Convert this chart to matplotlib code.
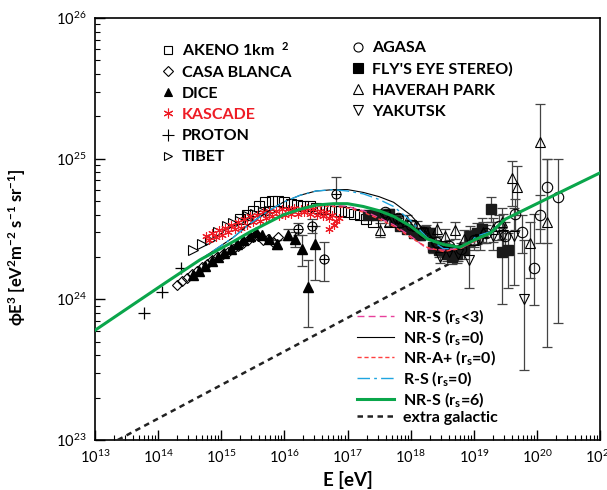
import matplotlib
matplotlib.use('Agg')
import matplotlib.pyplot as plt
import numpy as np
from matplotlib.lines import Line2D

plt.rcParams['font.family'] = ['Lato', 'DejaVu Sans']
plt.rcParams['mathtext.fontset'] = 'custom'
plt.rcParams['mathtext.rm'] = 'Lato:bold'
plt.rcParams['mathtext.it'] = 'Lato:bold'
plt.rcParams['mathtext.bf'] = 'Lato:bold'
plt.rcParams['mathtext.default'] = 'bf'

# ---------------- data (log10 E [eV], log10 phi E^3) ----------------
proton_E = [13.77, 14.06, 14.37]
proton_y = [23.905, 24.055, 24.22]

tibet_E = [14.55, 14.69, 14.82, 14.95, 15.09, 15.19, 15.30, 15.43, 15.54, 15.66, 15.78]
tibet_y = [24.35, 24.39, 24.42, 24.48, 24.52, 24.54, 24.56, 24.59, 24.61, 24.62, 24.63]

kascade1_E = [14.76, 14.86, 14.96, 15.06, 15.16, 15.26, 15.36, 15.46, 15.56, 15.66, 15.76,
              15.86, 15.96, 16.06, 16.16, 16.26, 16.36, 16.46, 16.56, 16.66, 16.76, 16.86]
kascade1_y = [24.45, 24.47, 24.49, 24.51, 24.53, 24.55, 24.57, 24.59, 24.60, 24.62, 24.63,
              24.63, 24.64, 24.64, 24.65, 24.64, 24.65, 24.64, 24.63, 24.62, 24.60, 24.58]
kascade2_E = [14.81, 14.91, 15.01, 15.11, 15.21, 15.31, 15.41, 15.51, 15.61, 15.71, 15.81,
              15.91, 16.01, 16.11, 16.21, 16.31, 16.41, 16.51, 16.61, 16.71, 16.81, 16.70, 16.78]
kascade2_y = [24.42, 24.44, 24.46, 24.48, 24.50, 24.51, 24.53, 24.55, 24.56, 24.58, 24.59,
              24.59, 24.60, 24.61, 24.61, 24.62, 24.61, 24.60, 24.59, 24.58, 24.56, 24.50, 24.53]

akeno_E = [15.3, 15.4, 15.5, 15.6, 15.7, 15.8, 15.9, 16.0, 16.1, 16.2, 16.3, 16.4, 16.5,
           16.6, 16.7, 16.8, 16.9, 17.0, 17.1, 17.2, 17.3, 17.4]
akeno_y = [24.57, 24.60, 24.63, 24.66, 24.69, 24.70, 24.70, 24.69, 24.68, 24.67, 24.66, 24.66,
           24.65, 24.64, 24.64, 24.63, 24.63, 24.62, 24.61, 24.60, 24.57, 24.55]

casa_E = [14.30, 14.38, 14.46, 14.54, 14.62, 14.70, 14.78, 14.86, 14.94, 15.02, 15.10, 15.18,
          15.26, 15.34, 15.42, 15.50, 15.58, 15.66, 15.74, 15.82, 15.90]
casa_y = [24.10, 24.13, 24.15, 24.18, 24.20, 24.23, 24.25, 24.28, 24.30, 24.32, 24.34, 24.36,
          24.38, 24.40, 24.42, 24.44, 24.45, 24.42, 24.43, 24.41, 24.44]

dice_E = [14.55, 14.65, 14.75, 14.85, 14.95, 15.05, 15.15, 15.25, 15.35, 15.45, 15.55, 15.65,
          15.75, 15.88, 16.06, 16.17, 16.28, 16.38, 16.48]
dice_y = [24.17, 24.20, 24.24, 24.27, 24.30, 24.33, 24.36, 24.39, 24.42, 24.45, 24.48, 24.46,
          24.43, 24.39, 24.46, 24.43, 24.36, 24.09, 24.39]
dice_up = [0, 0, 0, 0, 0, 0, 0, 0, 0, 0, 0, 0, 0, 0.03, 0.04, 0.05, 0.10, 0.19, 0.13]
dice_dn = [0, 0, 0, 0, 0, 0, 0, 0, 0, 0, 0, 0, 0, 0.03, 0.04, 0.06, 0.12, 0.29, 0.25]

cross_E = [16.22, 16.43, 16.62, 16.82]
cross_y = [24.50, 24.52, 24.29, 24.75]
cross_up = [0.04, 0.05, 0.12, 0.12]
cross_dn = [0.04, 0.05, 0.16, 0.07]

agasa_E = [17.6, 17.8, 18.0, 18.2, 18.4, 18.6, 18.8, 19.0, 19.2, 19.4, 19.5, 19.66, 19.76,
           19.95, 20.05, 20.16, 20.34]
agasa_y = [24.62, 24.58, 24.53, 24.48, 24.41, 24.38, 24.36, 24.42, 24.47, 24.52, 24.45, 24.61,
           24.48, 24.22, 24.60, 24.80, 24.73]
agasa_up = [0.02, 0.02, 0.03, 0.03, 0.03, 0.04, 0.04, 0.05, 0.06, 0.08, 0.10, 0.10, 0.12,
            0.39, 0.14, 0.20, 0.27]
agasa_dn = [0.02, 0.02, 0.03, 0.03, 0.03, 0.04, 0.04, 0.05, 0.07, 0.10, 0.12, 0.12, 0.15,
            0.26, 0.20, 0.40, 0.90]

fly_E = [17.33, 17.45, 17.55, 17.65, 17.75, 17.83, 17.95, 18.05, 18.15, 18.23, 18.31, 18.36,
         18.45, 18.52, 18.57, 18.65, 18.73, 18.85, 18.94, 19.05, 19.13, 19.28, 19.44, 19.55]
fly_y = [24.60, 24.60, 24.60, 24.61, 24.56, 24.52, 24.50, 24.47, 24.46, 24.48, 24.47, 24.37,
         24.35, 24.36, 24.32, 24.30, 24.32, 24.35, 24.45, 24.47, 24.50, 24.64, 24.34, 24.35]
fly_up = [0.03, 0.03, 0.03, 0.03, 0.03, 0.03, 0.03, 0.03, 0.04, 0.04, 0.04, 0.04, 0.05, 0.05,
          0.05, 0.05, 0.06, 0.06, 0.07, 0.07, 0.08, 0.09, 0.17, 0.12]
fly_dn = [0.03, 0.03, 0.03, 0.03, 0.03, 0.03, 0.03, 0.03, 0.04, 0.04, 0.04, 0.04, 0.05, 0.05,
          0.05, 0.05, 0.06, 0.06, 0.07, 0.08, 0.09, 0.09, 0.37, 0.27]

hp_E = [17.52, 17.65, 17.80, 17.94, 18.10, 18.25, 18.41, 18.55, 18.70, 18.85, 19.00, 19.15,
        19.30, 19.45, 19.60, 19.68, 19.89, 20.05, 20.16]
hp_y = [24.49, 24.55, 24.55, 24.56, 24.52, 24.48, 24.50, 24.45, 24.49, 24.43, 24.42, 24.48,
        24.50, 24.55, 24.86, 24.80, 24.40, 25.12, 24.55]
hp_up = [0.05, 0.03, 0.03, 0.04, 0.04, 0.05, 0.05, 0.05, 0.06, 0.06, 0.07, 0.07, 0.08, 0.10,
         0.12, 0.15, 0.15, 0.27, 0.45]
hp_dn = [0.05, 0.03, 0.03, 0.04, 0.04, 0.05, 0.05, 0.05, 0.06, 0.06, 0.07, 0.08, 0.09, 0.12,
         0.20, 0.20, 0.25, 0.62, 0.89]

yak_E = [17.60, 17.80, 18.00, 18.20, 18.40, 18.47, 18.60, 18.75, 18.92, 19.10, 19.30, 19.47,
         19.63, 19.79]
yak_y = [24.60, 24.57, 24.53, 24.47, 24.38, 24.30, 24.34, 24.32, 24.28, 24.43, 24.45, 24.46,
         24.45, 24.00]
yak_up = [0.02, 0.02, 0.03, 0.03, 0.04, 0.04, 0.05, 0.05, 0.10, 0.07, 0.10, 0.15, 0.20, 0.42]
yak_dn = [0.02, 0.02, 0.03, 0.03, 0.04, 0.04, 0.05, 0.05, 0.20, 0.08, 0.10, 0.15, 0.35, 0.50]

# model curves (all share the same energy grid)
curve_E = [13.0, 13.61, 14.14, 14.66, 15.19, 15.46, 15.72, 15.98, 16.25, 16.5, 16.78, 17.0,
           17.25, 17.5, 17.73, 18.0, 18.26, 18.52, 18.78, 19.05, 19.26, 19.5, 20.0, 20.5, 21.05]
green_y = [23.78, 23.965, 24.125, 24.28, 24.41, 24.48, 24.54, 24.60, 24.64, 24.67, 24.68, 24.68,
           24.66, 24.63, 24.59, 24.52, 24.43, 24.39, 24.37, 24.43, 24.47, 24.57, 24.68, 24.79, 24.91]
nrs0_y = [23.78, 23.965, 24.125, 24.28, 24.44, 24.54, 24.62, 24.69, 24.74, 24.77, 24.78, 24.78,
          24.76, 24.73, 24.69, 24.60, 24.47, 24.37, 24.36, 24.45, 24.48, 24.57, 24.68, 24.79, 24.91]
rs_y = [23.78, 23.965, 24.125, 24.28, 24.44, 24.54, 24.62, 24.69, 24.74, 24.77, 24.78, 24.77,
        24.75, 24.71, 24.66, 24.56, 24.44, 24.36, 24.36, 24.45, 24.48, 24.57, 24.68, 24.79, 24.91]
nrs3_y = [23.78, 23.965, 24.125, 24.28, 24.41, 24.48, 24.54, 24.60, 24.64, 24.66, 24.67, 24.66,
          24.63, 24.58, 24.53, 24.45, 24.36, 24.35, 24.36, 24.42, 24.47, 24.57, 24.68, 24.79, 24.91]
nra_y = [23.78, 23.965, 24.125, 24.28, 24.41, 24.48, 24.54, 24.60, 24.64, 24.66, 24.66, 24.65,
         24.62, 24.57, 24.52, 24.44, 24.37, 24.34, 24.36, 24.42, 24.47, 24.57, 24.68, 24.79, 24.91]
eg_E = [13.36, 18.60]
eg_y = [23.00, 24.25]


def P(a):
    return 10 ** np.asarray(a, dtype=float)


fig = plt.figure(figsize=(6.07, 4.90), dpi=100)
ax = fig.add_axes([95 / 607, 1 - 440 / 490, 505 / 607, 422 / 490])
ax.set_xscale('log')
ax.set_yscale('log')
ax.set_xlim(1e13, 1e21)
ax.set_ylim(1e23, 1e26)


def ebar(E, y, up, dn, color='#444444'):
    E = np.asarray(E, float); y = np.asarray(y, float)
    up = np.asarray(up, float); dn = np.asarray(dn, float)
    m = (up > 0) | (dn > 0)
    yy = P(y[m])
    lo = yy - 10 ** (y[m] - dn[m])
    hi = 10 ** (y[m] + up[m]) - yy
    ax.errorbar(P(E[m]), yy, yerr=[lo, hi], fmt='none', ecolor=color, elinewidth=0.9,
                capsize=3.5, capthick=0.9, zorder=2)


ebar(dice_E, dice_y, dice_up, dice_dn)
ebar(cross_E, cross_y, cross_up, cross_dn)
ebar(agasa_E, agasa_y, agasa_up, agasa_dn)
ebar(fly_E, fly_y, fly_up, fly_dn)
ebar(hp_E, hp_y, hp_up, hp_dn)
ebar(yak_E, yak_y, yak_up, yak_dn)

asterisk = (6, 2, 0)
red = '#ee1c25'
ow = dict(mfc='none', mec='black', mew=0.8, ls='none', zorder=3)
ax.plot(P(casa_E), P(casa_y), 'D', ms=4.8, **ow)
ax.plot(P(dice_E), P(dice_y), '^', ms=7, color='black', ls='none', zorder=3)
ax.plot(P(tibet_E), P(tibet_y), '>', ms=7, **ow)
ax.plot(P(akeno_E), P(akeno_y), 's', ms=6.5, **ow)
ax.plot(P(kascade1_E), P(kascade1_y), marker=asterisk, ms=6, color=red, mew=0.8, ls='none', zorder=3)
ax.plot(P(kascade2_E), P(kascade2_y), marker=asterisk, ms=6, color=red, mew=0.8, ls='none', zorder=3)
ax.plot(P(proton_E), P(proton_y), '+', ms=9, color='black', mew=0.9, ls='none', zorder=3)
ax.plot(P(cross_E), P(cross_y), 'o', ms=6.5, **ow)
ax.plot(P(cross_E), P(cross_y), '+', ms=6.5, color='black', mew=0.8, ls='none', zorder=3)
ax.plot(P(fly_E), P(fly_y), 's', ms=7, color='#1a1a1a', ls='none', zorder=3)
ax.plot(P(hp_E), P(hp_y), '^', ms=7.5, **ow)
ax.plot(P(yak_E), P(yak_y), 'v', ms=7.5, **ow)
ax.plot(P(agasa_E), P(agasa_y), 'o', ms=7.5, **ow)

# curves
c_mag = '#e8409b'; c_red = '#ff4040'; c_cyan = '#1fa5e0'; c_green = '#0aa64b'
ax.plot(P(curve_E), P(nrs0_y), color='black', lw=0.8, zorder=4)
ax.plot(P(curve_E), P(rs_y), color=c_cyan, lw=1.0, dashes=(9, 3, 2, 3), zorder=4)
ax.plot(P(curve_E), P(nrs3_y), color=c_mag, lw=1.0, dashes=(5, 3), zorder=4)
ax.plot(P(curve_E), P(nra_y), color=c_red, lw=1.0, dashes=(3, 2), zorder=4)
ax.plot(P(curve_E), P(green_y), color=c_green, lw=2.2, zorder=5)
ax.plot(P(eg_E), P(eg_y), color='#222222', lw=1.8, dashes=(2.2, 1.8), zorder=4)

# axes styling
for s in ax.spines.values():
    s.set_linewidth(1.2)
ax.tick_params(which='both', direction='in', top=False, right=False)
ax.tick_params(which='major', length=7, width=1.0, labelsize=10.5, pad=6)
ax.tick_params(which='minor', length=3.5, width=0.8)
ax.set_xlabel('E [eV]', fontsize=13.5, fontweight='bold', labelpad=4)
ax.set_ylabel(r'ϕE$^3$ [eV$^2$m$^{-2}$ s$^{-1}$ sr$^{-1}$]', fontsize=12, fontweight='bold')
ax.yaxis.set_label_coords((28 - 95) / 505, (440 - 247) / 422)

# legends
fs = 11.5
mk = dict(ls='none', mew=0.8)
h1 = [Line2D([], [], marker='s', ms=5.5, mfc='none', mec='k', **mk),
      Line2D([], [], marker='D', ms=5, mfc='none', mec='k', **mk),
      Line2D([], [], marker='^', ms=6, color='k', **mk),
      Line2D([], [], marker=asterisk, ms=7, color=red, **mk),
      Line2D([], [], marker='+', ms=8, color='k', **mk),
      Line2D([], [], marker='>', ms=6, mfc='none', mec='k', **mk)]
l1 = [r'AKENO 1km  $^2$', 'CASA BLANCA', 'DICE', 'KASCADE', 'PROTON', 'TIBET']
leg1 = fig.legend(h1, l1, loc='upper left', bbox_to_anchor=(161 / 607, 1 - 41 / 490),
                  frameon=False, prop={'weight': 'bold', 'size': fs},
                  handlelength=0.9, handletextpad=0.4, labelspacing=0.43, borderpad=0,
                  borderaxespad=0)
leg1.get_texts()[3].set_color(red)

h2 = [Line2D([], [], marker='o', ms=6.5, mfc='none', mec='k', **mk),
      Line2D([], [], marker='s', ms=6.5, color='k', **mk),
      Line2D([], [], marker='^', ms=6.5, mfc='none', mec='k', **mk),
      Line2D([], [], marker='v', ms=6.5, mfc='none', mec='k', **mk)]
l2 = ['AGASA', "FLY'S EYE STEREO)", 'HAVERAH PARK', 'YAKUTSK']
leg2 = fig.legend(h2, l2, loc='upper left', bbox_to_anchor=(351 / 607, 1 - 41 / 490),
                  frameon=False, prop={'weight': 'bold', 'size': fs},
                  handlelength=0.9, handletextpad=0.4, labelspacing=0.43, borderpad=0,
                  borderaxespad=0)

h3 = [Line2D([], [], color=c_mag, lw=1.0, dashes=(5, 3)),
      Line2D([], [], color='black', lw=0.8),
      Line2D([], [], color=c_red, lw=1.0, dashes=(3, 2)),
      Line2D([], [], color=c_cyan, lw=1.0, dashes=(9, 3, 2, 3)),
      Line2D([], [], color=c_green, lw=2.2),
      Line2D([], [], color='#222222', lw=1.8, dashes=(2.2, 1.8))]
l3 = [r'NR-S (r$_s$<3)', r'NR-S (r$_s$=0)', r'NR-A+ (r$_s$=0)',
      r'R-S (r$_s$=0)', r'NR-S (r$_s$=6)', 'extra galactic']
leg3 = fig.legend(h3, l3, loc='upper left', bbox_to_anchor=(357 / 607, 1 - 307 / 490),
                  frameon=False, prop={'weight': 'bold', 'size': fs},
                  handlelength=2.3, handletextpad=0.6, labelspacing=0.12, borderpad=0,
                  borderaxespad=0)

fig.savefig('out.png', dpi=100)
